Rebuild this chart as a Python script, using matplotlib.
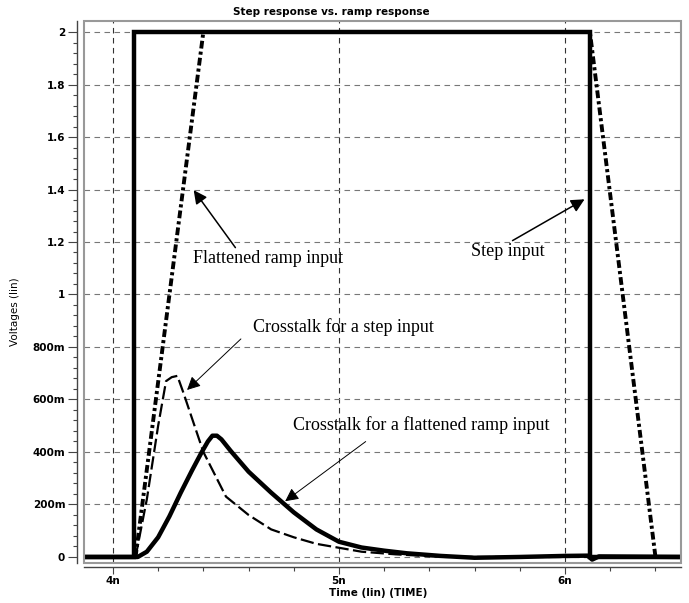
import matplotlib
matplotlib.use('Agg')
import matplotlib.pyplot as plt
from matplotlib.patches import Rectangle
import numpy as np

# time in ns, voltages in V
step_t = [3.87, 4.093, 4.093, 6.11, 6.11, 6.52]
step_v = [0.0, 0.0, 2.0, 2.0, 0.0, 0.0]

ramp_t = [3.87, 4.10, 4.40, 6.11, 6.40, 6.52]
ramp_v = [0.0, 0.0, 2.0, 2.0, 0.0, 0.0]

xstep_t = [4.10, 4.15, 4.20, 4.235, 4.26, 4.285, 4.31, 4.40, 4.50, 4.60, 4.70, 4.80,
           4.90, 5.00, 5.10, 5.25, 5.40, 5.60, 6.10, 6.52]
xstep_v = [0.0, 0.22, 0.50, 0.67, 0.685, 0.69, 0.63, 0.40, 0.23, 0.16, 0.105, 0.075,
           0.05, 0.035, 0.02, 0.01, 0.003, 0.0, 0.0, 0.0]

xramp_t = [3.87, 4.11, 4.15, 4.20, 4.25, 4.30, 4.35, 4.39, 4.42, 4.44, 4.46, 4.48,
           4.52, 4.60, 4.70, 4.80, 4.90, 5.00, 5.10, 5.20, 5.30, 5.45, 5.60, 5.80,
           6.00, 6.10, 6.12, 6.15, 6.52]
xramp_v = [0.0, 0.0, 0.02, 0.075, 0.155, 0.245, 0.33, 0.395, 0.44, 0.462, 0.462, 0.448,
           0.405, 0.325, 0.245, 0.17, 0.105, 0.058, 0.036, 0.024, 0.014, 0.004, -0.003, 0.0,
           0.004, 0.005, -0.01, 0.002, 0.0]

yticks = [0, 0.2, 0.4, 0.6, 0.8, 1.0, 1.2, 1.4, 1.6, 1.8, 2.0]
ytick_labels = ['0', '200m', '400m', '600m', '800m', '1', '1.2', '1.4', '1.6', '1.8', '2']
xticks = [4, 5, 6]
xtick_labels = ['4n', '5n', '6n']

fig = plt.figure(figsize=(6.89, 6.03), dpi=100)
ax = fig.add_axes([84/689, 1 - 563/603, 597/689, 542/603])

# grid
for t in xticks:
    ax.axvline(t, color='#333333', lw=0.8, ls=(0, (5, 4)), zorder=1)
for v in yticks:
    ax.axhline(v, color='#777777', lw=0.8, ls=(0, (5, 4)), zorder=1)

# curves
ax.plot(step_t, step_v, color='black', lw=3.2, solid_joinstyle='miter', zorder=4)
ax.plot(ramp_t, ramp_v, color='black', lw=2.8, ls=(0, (2.0, 0.8, 0.8, 0.8)), zorder=3)
ax.plot(xstep_t, xstep_v, color='black', lw=1.6, ls=(0, (6, 2)), zorder=3)
ax.plot(xramp_t, xramp_v, color='black', lw=3.2, solid_joinstyle='round', zorder=4)

# gray frame around the plot area
ax.add_patch(Rectangle((0, 0), 1, 1, transform=ax.transAxes, fill=False,
                       edgecolor='#999999', lw=1.5, zorder=5, clip_on=False))

# axes with ticks set outside the frame
ax.spines['top'].set_visible(False)
ax.spines['right'].set_visible(False)
ax.spines['left'].set_position(('outward', 5))
ax.spines['bottom'].set_position(('outward', 3))
for s in ['left', 'bottom']:
    ax.spines[s].set_color('#444444')
    ax.spines[s].set_linewidth(1.0)

ax.set_yticks(yticks)
ax.set_yticklabels(ytick_labels)
ax.set_yticks(np.arange(0, 2.001, 0.04), minor=True)
ax.set_xticks(xticks)
ax.set_xticklabels(xtick_labels)
ax.set_xticks(np.arange(3.8, 6.6, 0.2), minor=True)
# limits after the ticks, set_xticks widens the view otherwise
ax.set_xlim(3.872, 6.513)
ax.set_ylim(-0.023, 2.042)

ax.tick_params(axis='both', which='major', length=6.5, width=0.8, color='#444444',
               labelsize=7.5, pad=2)
ax.tick_params(axis='both', which='minor', length=3, width=0.8, color='#444444')
ax.tick_params(axis='x', which='major', length=5, pad=1.5)
for lab in ax.get_xticklabels() + ax.get_yticklabels():
    lab.set_fontweight('bold')

# annotations
serif = 'Liberation Serif'
fs = 13
ax.annotate('', xy=(4.350, 1.406), xytext=(4.549, 1.170),
            arrowprops=dict(arrowstyle='-|>', mutation_scale=20, lw=1.1, color='black'))
ax.text(4.354, 1.139, 'Flattened ramp input', fontsize=fs, family=serif, va='center')

ax.annotate('', xy=(6.097, 1.368), xytext=(5.757, 1.200),
            arrowprops=dict(arrowstyle='-|>', mutation_scale=20, lw=1.1, color='black'))
ax.text(5.584, 1.162, 'Step input', fontsize=fs, family=serif, va='center')

ax.annotate('', xy=(4.319, 0.629), xytext=(4.575, 0.838),
            arrowprops=dict(arrowstyle='-|>', mutation_scale=20, lw=0.7, color='black'))
ax.text(4.619, 0.876, 'Crosstalk for a step input', fontsize=fs, family=serif, va='center')

ax.annotate('', xy=(4.752, 0.206), xytext=(5.128, 0.446),
            arrowprops=dict(arrowstyle='-|>', mutation_scale=20, lw=0.7, color='black'))
ax.text(4.796, 0.503, 'Crosstalk for a flattened ramp input', fontsize=fs, family=serif,
        va='center')

# titles
fig.text(331/689, 1 - 12/603, 'Step response vs. ramp response', fontsize=7.5,
         fontweight='bold', ha='center', va='center')
fig.text(378/689, 1 - 593/603, 'Time (lin) (TIME)', fontsize=7.5, fontweight='bold',
         ha='center', va='center')
fig.text(15/689, 1 - 312/603, 'Voltages (lin)', fontsize=7.5, rotation=90,
         family=['Liberation Sans Narrow', 'DejaVu Sans'], ha='center', va='center')

fig.savefig('out.png', dpi=100)
